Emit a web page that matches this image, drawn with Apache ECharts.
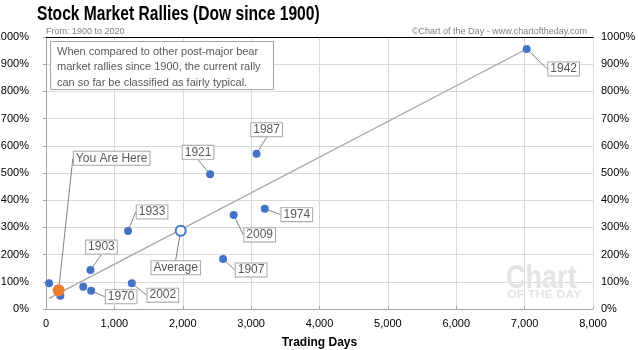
<!DOCTYPE html>
<html>
<head>
<meta charset="utf-8">
<script src="https://cdn.jsdelivr.net/npm/echarts@6/dist/echarts.min.js"></script>
<style>html,body{margin:0;padding:0;background:#fff}#c{width:638px;height:350px}</style>
</head>
<body>
<div id="c"></div>
<script>
// ---- data ----
const rallyYears  = ['1942','1987','1921','1974','2009','1907','1933','1903','1970','2002','','',''];
const tradingDays = [7030, 3080, 2400, 3200, 2745, 2590, 1200, 650, 660, 1255, 545, 45, 210];
const gainPct     = [956, 571, 495, 369, 346, 184, 287, 143, 67, 95, 82, 95, 49];
const averageDays = [1970];
const averagePct  = [288];
const currentDays = [185];
const currentPct  = [69];
const trendDays   = [44, 7030];
const trendPct    = [39, 956];
const xTicks = [0,1000,2000,3000,4000,5000,6000,7000,8000];
const yTicks = [0,100,200,300,400,500,600,700,800,900,1000];

// label offsets (layout only)
const labelOffsets = [[37,20],[10,-24],[-12,-22],[32,6],[26,20],[28,11],[24,-19],[11,-23],[30,6],[31,12],[0,0],[0,0],[0,0]];
const avgOffset = [-5,37];
const curOffset = [53,-132];

const FONT = 'Liberation Sans';
const GRAY = '#595959';
const labelBox = {
  show: true, position: 'inside', color: GRAY, fontFamily: FONT, fontSize: 12,
  backgroundColor: '#fff', borderColor: '#a6a6a6', borderWidth: 1, padding: [1, 2, 0, 2]
};
const leader = { show: true, lineStyle: { color: '#808080', width: 1 } };

const chart = echarts.init(document.getElementById('c'), null, {renderer: 'canvas'});
const fmtNum = v => v.toLocaleString('en-US');
const fmtPct = v => v + '%';

chart.setOption({
  animation: false,
  textStyle: { fontFamily: FONT },
  title: [
    { text: 'From: 1900 to 2020', left: 46, top: 27, padding: 0,
      textStyle: { fontFamily: FONT, fontWeight: 'normal', fontSize: 9, color: '#7f7f7f' } },
    { text: '©Chart of the Day - www.chartoftheday.com', right: 51, top: 27, padding: 0,
      textStyle: { fontFamily: FONT, fontWeight: 'normal', fontSize: 9, color: '#7f7f7f' } }
  ],
  grid: { left: 46, right: 45, top: 37, bottom: 41, containLabel: false, outerBoundsMode: 'none' },
  xAxis: [{
    type: 'value', min: xTicks[0], max: xTicks[xTicks.length-1], interval: 1000,
    name: 'Trading Days', nameLocation: 'middle', nameGap: 28,
    nameTextStyle: { fontFamily: FONT, fontWeight: 'bold', fontSize: 12, color: '#000' },
    axisLine: { show: true, lineStyle: { color: '#a6a6a6' } },
    axisTick: { show: true, inside: true, length: 3, lineStyle: { color: '#a6a6a6' } },
    axisLabel: { formatter: fmtNum, color: '#000', fontSize: 11, margin: 9 },
    splitLine: { show: true, lineStyle: { color: '#d9d9d9' } }
  }, {
    type: 'value', position: 'top', min: 0, max: 8000,
    axisLine: { show: true, onZero: false, lineStyle: { color: '#000', width: 1 } },
    axisTick: { show: false }, axisLabel: { show: false }, splitLine: { show: false }
  }],
  yAxis: [{
    type: 'value', min: yTicks[0], max: yTicks[yTicks.length-1], interval: 100,
    axisLine: { show: true, lineStyle: { color: '#a6a6a6' } },
    axisTick: { show: true, length: 3, lineStyle: { color: '#a6a6a6' } },
    axisLabel: { formatter: fmtPct, color: '#000', fontSize: 11, margin: 17 },
    splitLine: { show: true, lineStyle: { color: '#d9d9d9' } }
  }, {
    type: 'value', position: 'right', min: 0, max: 1000, interval: 100,
    axisLine: { show: true, lineStyle: { color: '#a6a6a6' } },
    axisTick: { show: true, inside: true, length: 3, lineStyle: { color: '#a6a6a6' } },
    axisLabel: { formatter: fmtPct, color: '#000', fontSize: 11, margin: 8 },
    splitLine: { show: false }
  }],
  graphic: [
    { type: 'text', x: 37, y: 5, scaleX: 0.8, z: 101,
      style: { text: 'Stock Market Rallies (Dow since 1900)', fill: '#000', font: 'bold 19.5px "' + FONT + '"' } },
    { type: 'rect', shape: { x: 50.5, y: 41.5, width: 223, height: 48 },
      style: { fill: '#fff', stroke: '#a6a6a6', lineWidth: 1 }, z: 100 },
    { type: 'text', left: 57, top: 44, z: 101,
      style: { text: 'When compared to other post-major bear\nmarket rallies since 1900, the current rally\ncan so far be classified as fairly typical.',
        fill: GRAY, font: '11px "' + FONT + '"', lineHeight: 15.5 } },
    { type: 'text', x: 506, y: 262, scaleX: 0.82, z: 1,
      style: { text: 'Chart', fill: '#e4e4e4', font: 'bold 33px "' + FONT + '"' } },
    { type: 'text', x: 507, y: 290, scaleX: 1.25, z: 1,
      style: { text: 'OF THE DAY', fill: '#e4e4e4', font: 'bold 10px "' + FONT + '"' } }
  ],
  series: [
    { type: 'line', data: trendDays.map((d, i) => [d, trendPct[i]]),
      symbol: 'none', lineStyle: { color: '#a6a6a6', width: 1.3 }, z: 2, silent: true },
    { type: 'scatter', z: 5,
      data: tradingDays.map((d, i) => ({
        value: [d, gainPct[i]], name: rallyYears[i],
        label: { show: rallyYears[i] !== '' }, labelLine: { show: rallyYears[i] !== '' }
      })),
      symbolSize: 8, itemStyle: { color: '#4472c4', opacity: 1 },
      label: Object.assign({}, labelBox, { formatter: p => p.name }),
      labelLine: leader,
      labelLayout: p => ({ dx: labelOffsets[p.dataIndex][0], dy: labelOffsets[p.dataIndex][1] })
    },
    { type: 'scatter', z: 6,
      data: averageDays.map((d, i) => ({ value: [d, averagePct[i]], name: 'Average' })),
      symbolSize: 10, itemStyle: { color: '#fff', borderColor: '#4472c4', borderWidth: 2, opacity: 1 },
      label: Object.assign({}, labelBox, { formatter: p => p.name }),
      labelLine: leader,
      labelLayout: () => ({ dx: avgOffset[0], dy: avgOffset[1] })
    },
    { type: 'scatter', z: 7,
      data: currentDays.map((d, i) => ({ value: [d, currentPct[i]], name: 'You Are Here' })),
      symbolSize: 12, itemStyle: { color: '#ed7d31', opacity: 1 },
      label: Object.assign({}, labelBox, { formatter: p => p.name }),
      labelLine: leader,
      labelLayout: () => ({ dx: curOffset[0], dy: curOffset[1] })
    }
  ]
});
</script>
</body>
</html>
